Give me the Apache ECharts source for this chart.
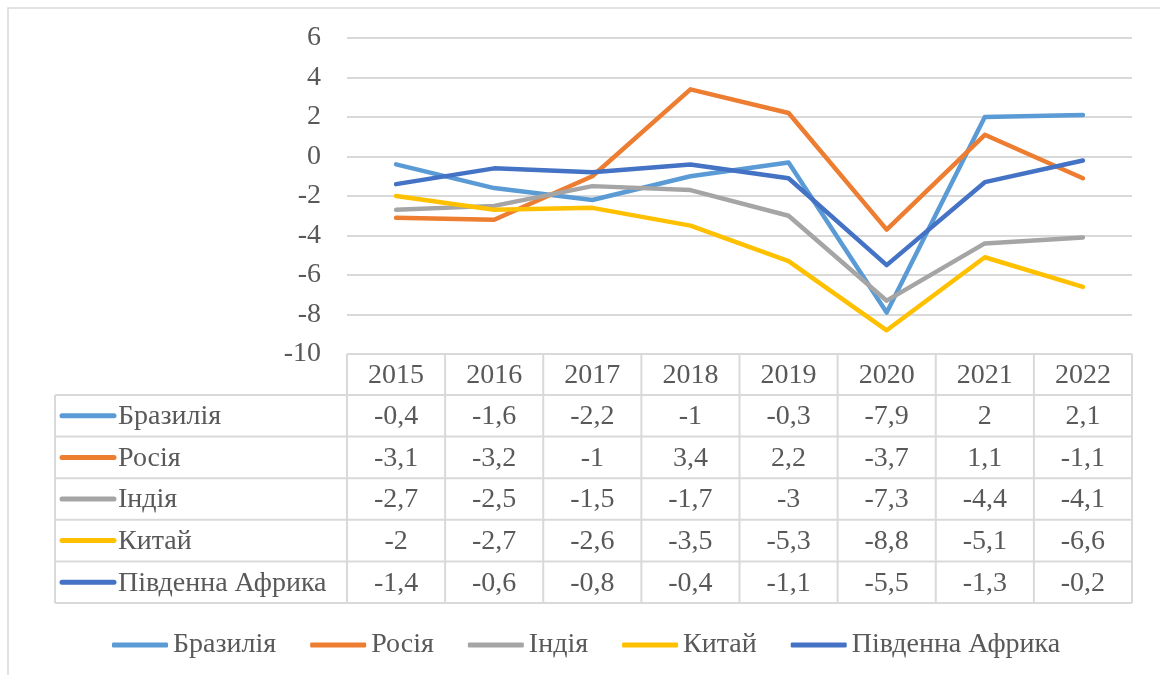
<!DOCTYPE html>
<html>
<head>
<meta charset="utf-8">
<script src="https://cdn.jsdelivr.net/npm/echarts@6/dist/echarts.min.js"></script>
<style>
  html, body { margin: 0; padding: 0; background: #fff; }
  #chart { width: 1160px; height: 675px; }
</style>
</head>
<body>
<div id="chart"></div>
<script>
// data
const years = ['2015', '2016', '2017', '2018', '2019', '2020', '2021', '2022'];
const brazil = [-0.4, -1.6, -2.2, -1, -0.3, -7.9, 2, 2.1];
const russia = [-3.1, -3.2, -1, 3.4, 2.2, -3.7, 1.1, -1.1];
const india = [-2.7, -2.5, -1.5, -1.7, -3, -7.3, -4.4, -4.1];
const china = [-2, -2.7, -2.6, -3.5, -5.3, -8.8, -5.1, -6.6];
const southAfrica = [-1.4, -0.6, -0.8, -0.4, -1.1, -5.5, -1.3, -0.2];
const names = ['Бразилія', 'Росія', 'Індія', 'Китай', 'Південна Африка'];
const seriesData = [brazil, russia, india, china, southAfrica];
const yMin = -10, yMax = 6, yStep = 2;

const colors = ['#5B9BD5', '#ED7D31', '#A5A5A5', '#FFC000', '#4472C4'];
const serifFamily = "'Liberation Serif', 'Times New Roman', serif";
const textColor = '#595959';
const borderColor = '#d9d9d9';
const fontSize = 28;

const build = () => {
  const chart = echarts.init(document.getElementById('chart'));

  chart.setOption({
    animation: false,
    color: colors,
    textStyle: { fontFamily: serifFamily },
    grid: { left: 347, right: 28, top: 38, bottom: 321 },
    xAxis: {
      type: 'category',
      data: years,
      boundaryGap: true,
      axisLine: { show: false },
      axisTick: { show: false },
      axisLabel: { show: false }
    },
    yAxis: {
      type: 'value',
      min: yMin,
      max: yMax,
      interval: yStep,
      axisLine: { show: false },
      axisTick: { show: false },
      axisLabel: { color: textColor, fontSize: fontSize, fontFamily: serifFamily, margin: 26 },
      splitLine: { lineStyle: { color: borderColor, width: 2 } }
    },
    legend: {
      data: names,
      left: 107,
      top: 626,
      icon: 'roundRect',
      itemWidth: 56,
      itemHeight: 5,
      itemGap: 34,
      textStyle: { color: textColor, fontSize: fontSize, fontFamily: serifFamily }
    },
    series: names.map((n, i) => ({
      name: n,
      type: 'line',
      data: seriesData[i],
      symbol: 'none',
      lineStyle: { width: 4.5, cap: 'round', join: 'round' }
    }))
  });

  // data table under the plot
  const x0 = chart.convertToPixel({ xAxisIndex: 0 }, 0);
  const band = chart.convertToPixel({ xAxisIndex: 0 }, 1) - x0;
  const colLeft = x0 - band / 2;
  const colRight = colLeft + band * years.length;
  const tableTop = chart.convertToPixel({ yAxisIndex: 0 }, yMin);
  const headH = 41;
  const rowH = 41.6;
  const tableLeft = 55;
  const tableBottom = tableTop + headH + rowH * names.length;
  const ls = { stroke: borderColor, lineWidth: 2 };
  const cellText = (text, x, y, align) => ({
    type: 'text',
    style: { text: text, x: x, y: y, align: align || 'center', verticalAlign: 'middle', fill: textColor, fontSize: fontSize, fontFamily: serifFamily }
  });
  const els = [];

  // outer frame of the chart
  els.push({ type: 'rect', shape: { x: 8, y: 8, width: 1200, height: 700 }, style: { fill: 'none', stroke: borderColor, lineWidth: 1.5 } });

  els.push({ type: 'line', shape: { x1: colLeft, y1: tableTop, x2: colRight, y2: tableTop }, style: ls });
  for (let r = 0; r <= names.length; r++) {
    const y = tableTop + headH + rowH * r;
    els.push({ type: 'line', shape: { x1: tableLeft, y1: y, x2: colRight, y2: y }, style: ls });
  }
  els.push({ type: 'line', shape: { x1: tableLeft, y1: tableTop + headH, x2: tableLeft, y2: tableBottom }, style: ls });
  for (let c = 0; c <= years.length; c++) {
    const x = colLeft + band * c;
    els.push({ type: 'line', shape: { x1: x, y1: tableTop, x2: x, y2: tableBottom }, style: ls });
  }

  years.forEach((yr, c) => {
    els.push(cellText(yr, colLeft + band * (c + 0.5), tableTop + headH / 2 + 1));
  });

  names.forEach((n, r) => {
    const cy = tableTop + headH + rowH * (r + 0.5);
    els.push({ type: 'line', shape: { x1: 62, y1: cy, x2: 114, y2: cy }, style: { stroke: colors[r], lineWidth: 5, lineCap: 'round' } });
    els.push(cellText(n, 118, cy + 1, 'left'));
    seriesData[r].forEach((v, c) => {
      els.push(cellText(String(v).replace('.', ','), colLeft + band * (c + 0.5), cy + 1));
    });
  });

  chart.setOption({ graphic: { elements: els } });
};

// draw a little after load so the system serif font is ready
setTimeout(build, 400);
</script>
</body>
</html>
